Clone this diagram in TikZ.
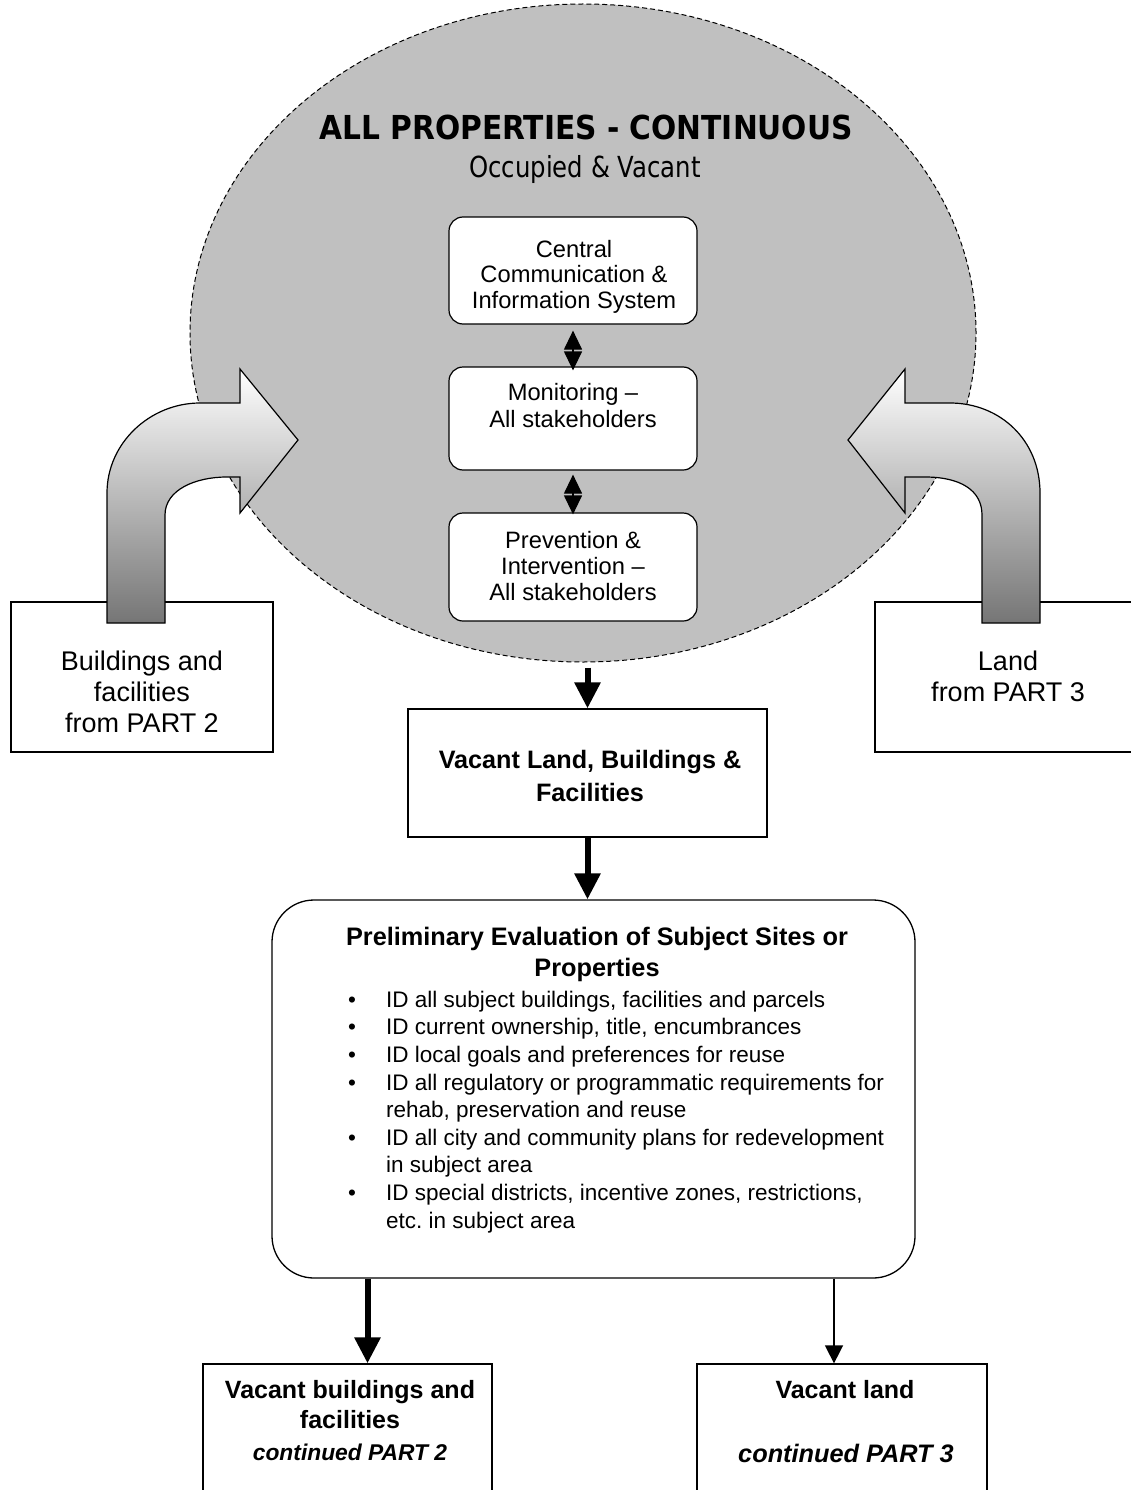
\documentclass[tikz,border=0pt]{standalone}
\usepackage{fontspec}
\setmainfont{Liberation Sans}
\newfontfamily\tahoma[FakeStretch=0.9]{DejaVu Sans}
\newfontfamily\tahomareg[FakeStretch=0.84]{DejaVu Sans}
\usetikzlibrary{shapes.geometric,arrows.meta}
\frenchspacing
\newcommand\mybullet{\llap{\makebox[38pt][l]{•}}}
\definecolor{ellgray}{RGB}{192,192,192}
\definecolor{amid}{gray}{0.86}
\definecolor{adark}{gray}{0.46}
\tikzset{
 ibox/.style={draw, line width=1.2pt, fill=white, rounded corners=14pt, minimum width=248pt, inner sep=0pt},
 sqbox/.style={draw, line width=1.3pt, fill=white, inner sep=0pt},
 txt/.style={align=center, inner sep=0pt},
 thickarrow/.style={line width=6pt, -{Triangle[width=25pt,length=26pt]}},
 thinarrow/.style={line width=1.5pt, -{Triangle[width=18pt,length=18pt]}},
 dblarrow/.style={line width=1.2pt, {Triangle[width=18pt,length=19pt]}-{Triangle[width=18pt,length=19pt]}},
 bentarrow/.style={draw=black, line width=1.2pt, top color=white, middle color=amid, bottom color=adark},
}
\begin{document}
\begin{tikzpicture}[x=1pt,y=-1pt]
\useasboundingbox (0,0) rectangle (1130,1490);
\fill[white] (0,0) rectangle (1130,1490);

% big ellipse
\node[ellipse, draw, fill=ellgray, line width=1pt, dash pattern=on 5pt off 3pt,
      minimum width=786pt, minimum height=658pt, inner sep=0pt] (ell) at (583,333) {};
\node[txt, anchor=base, font=\tahoma\bfseries\fontsize{33}{36}\selectfont] (title) at (586,140) {ALL PROPERTIES - CONTINUOUS};
\node[txt, anchor=base, font=\tahomareg\fontsize{29}{32}\selectfont] (sub) at (585,178) {Occupied \& Vacant};

% side boxes
\node[sqbox, minimum width=262pt, minimum height=150pt] (bf) at (142,677) {};
\node[txt, anchor=base, font=\fontsize{27}{31}\selectfont] (bft) at (142,732) {Buildings and\\facilities\\from PART 2};
\node[sqbox, minimum width=265pt, minimum height=150pt] (ld) at (1007.5,677) {};
\node[txt, anchor=base, font=\fontsize{27}{31}\selectfont] (ldt) at (1008,701) {Land\\from PART 3};

% bent arrows
\draw[bentarrow] (107,623) -- (107,493) .. controls (107,443) and (150,403) .. (200,403)
  -- (240,403) -- (240,369) -- (298,440) -- (240,513) -- (240,477) -- (227,477)
  .. controls (195,477) and (165,490) .. (165,515) -- (165,623) -- cycle;
\draw[bentarrow] (1040,623) -- (1040,493) .. controls (1040,440) and (1000,403) .. (950,403)
  -- (905,403) -- (905,369) -- (848,440) -- (905,513) -- (905,477) -- (925,477)
  .. controls (960,477) and (982,490) .. (982,515) -- (982,623) -- cycle;

% inner boxes
\node[ibox, minimum height=107pt] (b1) at (573,270.5) {};
\node[txt, anchor=base, font=\fontsize{23.7}{25.5}\selectfont] (t1) at (574,308) {Central\\Communication \&\\Information System};
\node[ibox, minimum height=103pt] (b2) at (573,418.5) {};
\node[txt, anchor=base, font=\fontsize{23.7}{26.5}\selectfont] (t2) at (573,427) {Monitoring –\\All stakeholders};
\node[ibox, minimum height=108pt] (b3) at (573,567) {};
\node[txt, anchor=base, font=\fontsize{23.7}{26}\selectfont] (t3) at (573,600) {Prevention \&\\Intervention –\\All stakeholders};
\draw[dblarrow] ([yshift=-6pt]b1.south) -- ([yshift=-4pt]b2.north);
\draw[dblarrow] ([yshift=-4pt]b2.south) -- ([yshift=-2pt]b3.north);

% vacant land box
\node[sqbox, minimum width=359pt, minimum height=128pt] (vl) at (587.5,773) {};
\node[txt, anchor=base, font=\bfseries\fontsize{25.2}{33}\selectfont] (vlt) at (590,801) {Vacant Land, Buildings \&\\Facilities};

% evaluation box
\node[draw, line width=1.3pt, fill=white, rounded corners=42pt, inner sep=0pt,
      minimum width=643pt, minimum height=378pt] (ev) at (593.5,1089) {};
\node[txt, anchor=base, font=\bfseries\fontsize{25.3}{31}\selectfont] (evt) at (597,976) {Preliminary Evaluation of Subject Sites or\\Properties};
\node[anchor=base west, align=left, inner sep=0pt, font=\fontsize{22.5}{27.6}\selectfont] (evl) at (386,1228) {%
\mybullet ID all subject buildings, facilities and parcels\\
\mybullet ID current ownership, title, encumbrances\\
\mybullet ID local goals and preferences for reuse\\
\mybullet ID all regulatory or programmatic requirements for\\
rehab, preservation and reuse\\
\mybullet ID all city and community plans for redevelopment\\
in subject area\\
\mybullet ID special districts, incentive zones, restrictions,\\
etc.\ in subject area};

% bottom boxes
\node[sqbox, minimum width=289pt, minimum height=140pt] (vb) at (347.5,1434) {};
\node[txt, anchor=base, font=\bfseries\fontsize{25}{30}\selectfont] (vbt) at (350,1428) {Vacant buildings and\\facilities};
\node[txt, anchor=base, font=\bfseries\itshape\fontsize{22.8}{27}\selectfont] (vbc) at (350,1460) {continued PART 2};
\node[sqbox, minimum width=290pt, minimum height=140pt] (vln) at (842,1434) {};
\node[txt, anchor=base, font=\bfseries\fontsize{25}{30}\selectfont] (vlnt) at (845,1398) {Vacant land};
\node[txt, anchor=base, font=\bfseries\itshape\fontsize{25.3}{30}\selectfont] (vlnc) at (846,1462) {continued PART 3};

% connectors
\draw[thickarrow] ([yshift=-5pt]vl.north |- ell.south) -- (vl.north);
\draw[thickarrow] (vl.south) -- (vl.south |- ev.north);
\draw[thickarrow] ([xshift=20pt]vb.north |- ev.south) -- ([xshift=20pt]vb.north);
\draw[thinarrow] ([xshift=-8pt]vln.north |- ev.south) -- ([xshift=-8pt]vln.north);
\end{tikzpicture}
\end{document}
